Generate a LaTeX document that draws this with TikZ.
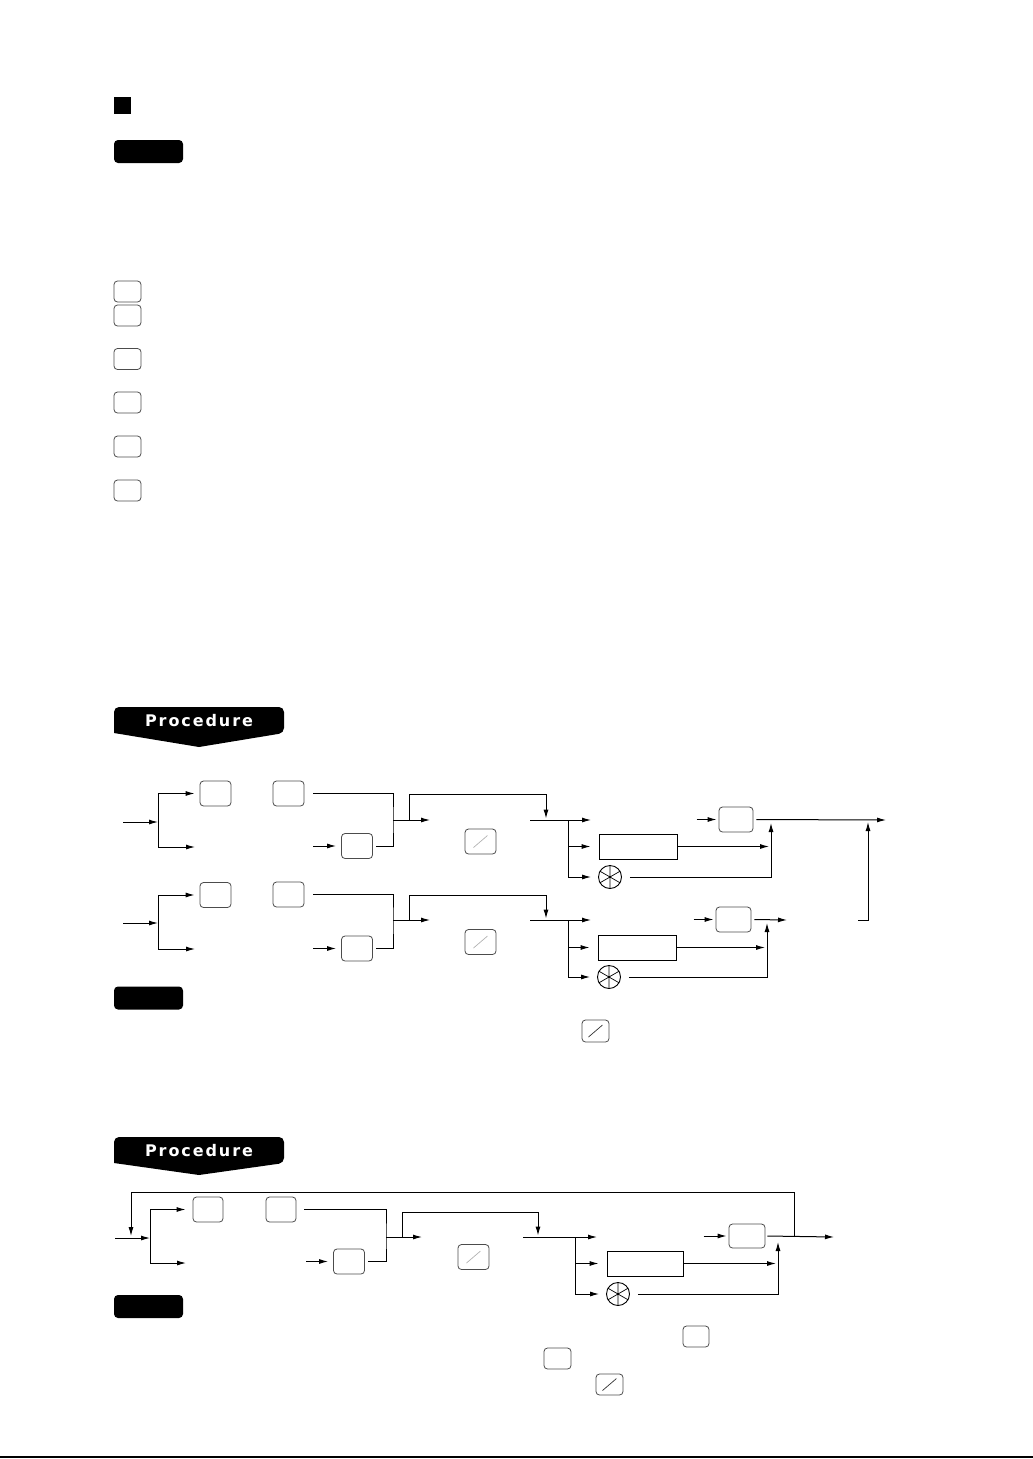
\documentclass[tikz,border=0pt]{standalone}
\usepackage{fontspec}
\newfontfamily\bannerfont[LetterSpace=12]{DejaVu Sans Bold}
\usetikzlibrary{arrows.meta, positioning}

\begin{document}
\begin{tikzpicture}[
  x=1pt, y=-1pt,
  key/.style={draw=black!70, rounded corners=3.5pt, line width=0.8pt, inner sep=0pt,
              minimum width=31pt, minimum height=25pt},
  smallkey/.style={key, minimum width=27pt, minimum height=21pt},
  slashkey/.style={key, path picture={\draw[#1, line width=0.7pt]
      ([shift={(-7pt,-6pt)}]path picture bounding box.center) --
      ([shift={(7pt,6pt)}]path picture bounding box.center);}},
  slashkey/.default=black!30,
  entry/.style={draw, line width=0.9pt, minimum width=78pt, minimum height=25pt, inner sep=0pt},
  mult/.style={circle, draw, line width=0.9pt, minimum size=23pt, inner sep=0pt},
  badge/.style={fill, rounded corners=4pt, minimum width=69pt, minimum height=23pt, inner sep=0pt},
  banner/.style={text=white, font=\bannerfont\fontsize{16}{16}\selectfont},
  flow/.style={-{Latex[length=9pt, width=5pt]}, line width=1pt},
  link/.style={line width=1pt}
]
\useasboundingbox (0,0) rectangle (1033,1459);

\node[fill, minimum size=17pt, inner sep=0pt] (mark) at (122.5,105) {};
\node[badge] (note1) at (148.5,151.5) {};

\node[smallkey] (lk1) at (127.5,291.5) {};
\node[smallkey] (lk2) at (127.5,315.5) {};
\node[smallkey] (lk3) at (127.5,359) {};
\node[smallkey] (lk4) at (127.5,402.5) {};
\node[smallkey] (lk5) at (127.5,446.5) {};
\node[smallkey] (lk6) at (127.5,490.5) {};

% first procedure
\fill[rounded corners=5pt] (114,733) -- (114,707) -- (284,707) -- (284,733)
  [sharp corners] -- (199,747) -- cycle;
\node[banner] (proc1) at (199,721) {Procedure};

\coordinate (inA) at (123,822);
\coordinate (spA) at (158,822);
\node[key] (k1A) at (215.5,793.5) {};
\node[key] (k2A) at (288.5,793.5) {};
\node[key] (k3A) at (357,846) {};
\coordinate (enA) at (195,847);
\coordinate (mA) at (393,820);
\coordinate (oA) at (430,820);
\coordinate (jA) at (546,820);
\node[slashkey] (sA) at (480.5,841.5) {};
\coordinate (lA) at (530,820);
\coordinate (brA) at (568,820);
\coordinate (opA) at (591,820);
\node[entry] (eA) at (638,846.5) {};
\node[mult] (cA) at (610,877) {};
\coordinate (rA) at (771,820);
\node[key, minimum width=34pt] (k4A) at (736,819.5) {};
\coordinate (endA) at (886,820);
\coordinate (upA) at (868,820);

\draw[flow] (inA) -- (spA);
\draw[flow] (spA) |- ([xshift=-5pt]k1A.west);
\draw[flow] (spA) |- (enA);
\draw[link] ([xshift=9pt]k2A.east) -| (mA) |- ([xshift=3pt]k3A.east);
\draw[flow] ([xshift=-28pt]k3A.west) -- ([xshift=-5pt]k3A.west);
\draw[flow] (mA) -- (oA);
\draw[flow] ([xshift=16pt]mA) |- ([yshift=26pt]jA) -- ([yshift=1.5pt]jA);
\draw[link] (lA) -- (brA);
\draw[flow] (brA) -- (opA);
\draw[flow] (brA) |- ([xshift=-8pt]eA.west);
\draw[flow] (brA) |- ([xshift=-7pt]cA.west);
\draw[link, line width=0.7pt] (cA.90) -- (cA.270) (cA.30) -- (cA.210) (cA.150) -- (cA.330);
\draw[flow] ([xshift=1pt]eA.east) -- ([xshift=-2pt]eA.east -| rA);
\draw[flow] ([xshift=8pt]cA.east) -| ([yshift=-3pt]rA);
\draw[flow] ([xshift=-22pt]k4A.west) -- ([xshift=-2pt]k4A.west);
\draw[flow] ([xshift=3pt]k4A.east) -- (endA);

\coordinate (inB) at (123,923);
\coordinate (spB) at (158,923);
\node[key] (k1B) at (215.5,895) {};
\node[key] (k2B) at (288.5,894.5) {};
\node[key] (k3B) at (357,948.5) {};
\coordinate (enB) at (195,949);
\coordinate (mB) at (393,920);
\coordinate (oB) at (430,920);
\coordinate (jB) at (546,920);
\node[slashkey] (sB) at (480.5,942) {};
\coordinate (lB) at (530,920);
\coordinate (brB) at (568,920);
\coordinate (opB) at (591,920);
\node[entry] (eB) at (637,947.5) {};
\node[mult] (cB) at (609,977) {};
\coordinate (rB) at (767,920);
\node[key, minimum width=35pt] (k4B) at (733.5,919.5) {};
\coordinate (endB) at (787,920);
\coordinate (retB) at (858,920);

\draw[flow] (inB) -- (spB);
\draw[flow] (spB) |- ([xshift=-5pt]k1B.west);
\draw[flow] (spB) |- (enB);
\draw[link] ([xshift=9pt]k2B.east) -| (mB) |- ([xshift=3pt]k3B.east);
\draw[flow] ([xshift=-28pt]k3B.west) -- ([xshift=-5pt]k3B.west);
\draw[flow] (mB) -- (oB);
\draw[flow] ([xshift=16pt]mB) |- ([yshift=25pt]jB) -- ([yshift=1.5pt]jB);
\draw[link] (lB) -- (brB);
\draw[flow] (brB) -- (opB);
\draw[flow] (brB) |- ([xshift=-8pt]eB.west);
\draw[flow] (brB) |- ([xshift=-7pt]cB.west);
\draw[link, line width=0.7pt] (cB.90) -- (cB.270) (cB.30) -- (cB.210) (cB.150) -- (cB.330);
\draw[flow] ([xshift=1pt]eB.east) -- ([xshift=-2pt]eB.east -| rB);
\draw[flow] ([xshift=8pt]cB.east) -| ([yshift=-3pt]rB);
\draw[flow] ([xshift=-22pt]k4B.west) -- ([xshift=-2pt]k4B.west);
\draw[flow] ([xshift=3pt]k4B.east) -- (endB);
\draw[flow] (retB) -| ([yshift=-2pt]upA);

\node[badge] (note2) at (148.5,998) {};
\node[slashkey=black!80, minimum width=27pt, minimum height=22pt] (nk1) at (595.5,1031) {};

% second procedure
\fill[rounded corners=5pt] (114,1163) -- (114,1137) -- (284,1137) -- (284,1163)
  [sharp corners] -- (199,1175) -- cycle;
\node[banner] (proc2) at (199,1151) {Procedure};

\coordinate (inC) at (115,1238);
\coordinate (spC) at (150,1238);
\node[key, minimum width=30pt] (k1C) at (208,1209.5) {};
\node[key, minimum width=30pt] (k2C) at (281,1209.5) {};
\node[key] (k3C) at (349,1261.5) {};
\coordinate (enC) at (186,1263);
\coordinate (mC) at (386,1237);
\coordinate (oC) at (422,1237);
\coordinate (jC) at (538,1237);
\node[slashkey] (sC) at (473.5,1257) {};
\coordinate (lC) at (523,1237);
\coordinate (brC) at (575,1237);
\coordinate (opC) at (597,1237);
\node[entry, minimum width=76pt] (eC) at (645,1263.5) {};
\node[mult] (cC) at (618,1294) {};
\coordinate (rC) at (778,1237);
\node[key, minimum width=36pt, minimum height=24pt] (k4C) at (747,1236) {};
\coordinate (endC) at (834,1237);
\coordinate (fbC) at (794,1237);
\coordinate (fdC) at (131,1237);

\draw[flow] (inC) -- (spC);
\draw[flow] (spC) |- ([xshift=-7pt]k1C.west);
\draw[flow] (spC) |- (enC);
\draw[link] ([xshift=8pt]k2C.east) -| (mC) |- ([xshift=3pt]k3C.east);
\draw[flow] ([xshift=-27pt]k3C.west) -- ([xshift=-5pt]k3C.west);
\draw[flow] (mC) -- (oC);
\draw[flow] ([xshift=16pt]mC) |- ([yshift=25pt]jC) -- ([yshift=1.5pt]jC);
\draw[link] (lC) -- (brC);
\draw[flow] (brC) -- (opC);
\draw[flow] (brC) |- ([xshift=-8pt]eC.west);
\draw[flow] (brC) |- ([xshift=-7pt]cC.west);
\draw[link, line width=0.7pt] (cC.90) -- (cC.270) (cC.30) -- (cC.210) (cC.150) -- (cC.330);
\draw[flow] ([xshift=1pt]eC.east) -- ([xshift=-2pt]eC.east -| rC);
\draw[flow] ([xshift=8pt]cC.east) -| ([yshift=-5pt]rC);
\draw[flow] ([xshift=-25pt]k4C.west) -- ([xshift=-2pt]k4C.west);
\draw[flow] ([xshift=2pt]k4C.east) -- (endC);
\draw[flow] (fbC) |- ([yshift=45pt]fdC) -- ([yshift=1pt]fdC);

\node[badge] (note3) at (148.5,1306.5) {};
\node[smallkey, minimum width=26pt] (nk2) at (696,1336.5) {};
\node[smallkey] (nk3) at (557.5,1358.5) {};
\node[slashkey=black!80, minimum width=27pt, minimum height=21pt] (nk4) at (609.5,1384.5) {};

\draw[line width=1.5pt] (0,1457) -- (1033,1457);
\end{tikzpicture}
\end{document}
